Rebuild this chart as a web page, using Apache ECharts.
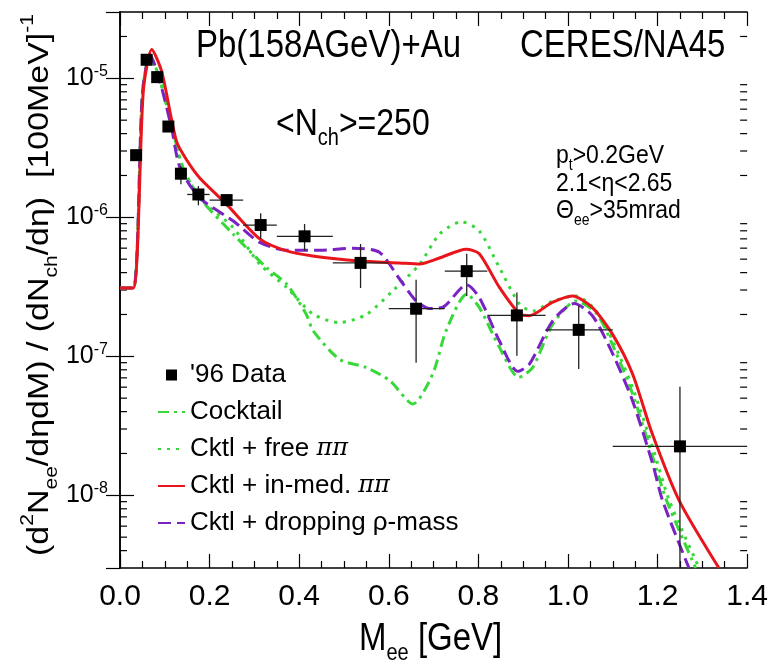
<!DOCTYPE html>
<html>
<head>
<meta charset="utf-8">
<script src="https://cdn.jsdelivr.net/npm/echarts@6/dist/echarts.min.js"></script>
<style>
  html, body { margin: 0; background: #fff; }
  #main { width: 771px; height: 666px; }
</style>
</head>
<body>
<div id="main"></div>
<script>
// '96 data: mass, yield, x-error range, y-error range
var dataM  = [0.036, 0.0595, 0.083, 0.108, 0.136, 0.175, 0.238, 0.314, 0.412, 0.537, 0.661, 0.774, 0.886, 1.024, 1.25];
var dataY  = [2.8e-6, 1.36e-5, 1.02e-5, 4.5e-6, 2.06e-6, 1.46e-6, 1.33e-6, 8.8e-7, 7.3e-7, 4.7e-7, 2.2e-7, 4.1e-7, 1.97e-7, 1.55e-7, 2.25e-8];
var dataXlo = [0.036, 0.0595, 0.083, 0.108, 0.136, 0.15, 0.2, 0.275, 0.35, 0.475, 0.6, 0.725, 0.82, 0.95, 1.1];
var dataXhi = [0.036, 0.0595, 0.083, 0.108, 0.136, 0.2, 0.275, 0.35, 0.475, 0.6, 0.725, 0.82, 0.95, 1.1, 1.4];
var dataYlo = [2.6e-6, 1.3e-5, 9.7e-6, 4.2e-6, 1.73e-6, 1.22e-6, 1.2e-6, 7.0e-7, 5.73e-7, 3.1e-7, 9.0e-8, 2.72e-7, 1.01e-7, 8.1e-8, 3.0e-9];
var dataYhi = [3.0e-6, 1.42e-5, 1.07e-5, 4.8e-6, 2.33e-6, 1.68e-6, 1.47e-6, 1.07e-6, 8.95e-7, 6.43e-7, 3.55e-7, 5.48e-7, 2.88e-7, 2.31e-7, 6.05e-8];

// Cocktail
var cockM = [0, 0.0297, 0.05, 0.067, 0.089, 0.115, 0.14, 0.178, 0.253, 0.327, 0.372, 0.416, 0.431, 0.49, 0.55, 0.602, 0.654, 0.698, 0.728, 0.774, 0.802, 0.847, 0.89, 0.921, 0.966, 1.018, 1.063, 1.1, 1.144, 1.189, 1.22, 1.285];
var cockY = [3.1e-7, 3.1e-7, 7.8e-6, 1.46e-5, 9.8e-6, 4.6e-6, 2.3e-6, 1.38e-6, 7.55e-7, 4.35e-7, 3.31e-7, 2.0e-7, 1.53e-7, 9.5e-8, 8.3e-8, 6.7e-8, 4.54e-8, 7.46e-8, 1.53e-7, 2.8e-7, 2.25e-7, 1.16e-7, 7.06e-8, 8.3e-8, 1.7e-7, 2.5e-7, 2.05e-7, 1.2e-7, 5.4e-8, 1.9e-8, 9.2e-9, 3e-9];

// Cktl + free pi pi
var freeM = [0, 0.0297, 0.05, 0.067, 0.089, 0.115, 0.14, 0.178, 0.253, 0.312, 0.372, 0.431, 0.49, 0.55, 0.609, 0.669, 0.713, 0.762, 0.802, 0.847, 0.892, 0.921, 0.966, 1.018, 1.063, 1.1, 1.144, 1.189, 1.226, 1.293];
var freeY = [3.1e-7, 3.1e-7, 7.8e-6, 1.46e-5, 9.8e-6, 4.6e-6, 2.3e-6, 1.38e-6, 8.4e-7, 4.6e-7, 3.13e-7, 2.01e-7, 1.75e-7, 2.0e-7, 2.96e-7, 4.6e-7, 7.55e-7, 9.3e-7, 7.98e-7, 4.35e-7, 2.37e-7, 2.12e-7, 2.5e-7, 2.72e-7, 2.12e-7, 1.29e-7, 5.98e-8, 2.22e-8, 9.2e-9, 3e-9];

// Cktl + in-medium pi pi
var medM = [0, 0.0297, 0.052, 0.071, 0.093, 0.126, 0.15, 0.178, 0.238, 0.312, 0.372, 0.43, 0.535, 0.624, 0.669, 0.713, 0.773, 0.802, 0.847, 0.892, 0.914, 0.965, 1.01, 1.054, 1.099, 1.144, 1.188, 1.248, 1.337];
var medY = [3.1e-7, 3.1e-7, 8.1e-6, 1.61e-5, 1.12e-5, 3.53e-6, 2.55e-6, 1.92e-6, 1.24e-6, 7.0e-7, 5.73e-7, 5.27e-7, 4.85e-7, 4.7e-7, 4.62e-7, 5.1e-7, 5.89e-7, 5.46e-7, 3.13e-7, 2.02e-7, 1.96e-7, 2.44e-7, 2.72e-7, 2.25e-7, 1.45e-7, 7.5e-8, 2.78e-8, 9.2e-9, 3e-9];

// Cktl + dropping rho mass
var dropM = [0, 0.0297, 0.05, 0.067, 0.089, 0.115, 0.134, 0.178, 0.253, 0.312, 0.372, 0.446, 0.52, 0.579, 0.624, 0.661, 0.691, 0.721, 0.774, 0.802, 0.847, 0.888, 0.914, 0.966, 1.014, 1.055, 1.1, 1.144, 1.189, 1.211, 1.27];
var dropY = [3.1e-7, 3.1e-7, 7.8e-6, 1.48e-5, 9.5e-6, 4.4e-6, 2.27e-6, 1.38e-6, 9.4e-7, 6.6e-7, 5.8e-7, 5.8e-7, 6.0e-7, 5.6e-7, 3.6e-7, 2.5e-7, 2.21e-7, 2.26e-7, 3.27e-7, 2.65e-7, 1.29e-7, 7.8e-8, 8.8e-8, 1.8e-7, 2.4e-7, 1.95e-7, 1.04e-7, 4.8e-8, 1.69e-8, 9.2e-9, 3e-9];

var xTicks = { min: 0, max: 1.4, interval: 0.2 };
var yRange = { min: 3e-9, max: 3e-5 };
var logMantissas = [2, 3, 4, 5, 6, 7, 8, 9];

var legendNames = ["'96 Data", 'Cocktail', 'Cktl + free ππ', 'Cktl + in-med. ππ', 'Cktl + dropping ρ-mass'];

function pairs(xs, ys) {
  return xs.map(function (x, i) { return [x, ys[i]]; });
}

var minorY = [];
for (var e = -9; e <= -5; e++) {
  logMantissas.forEach(function (m) {
    var v = m * Math.pow(10, e);
    if (v > yRange.min * 1.01 && v < yRange.max * 0.99) minorY.push([0, v]);
  });
}

var FONT = 'Liberation Sans';
var GREEN = '#38d838';
var RED = '#e8161c';
var PURPLE = '#7a22c4';

var myChart = echarts.init(document.getElementById('main'));

var option = {
  animation: false,
  backgroundColor: '#fff',
  grid: { left: 120, right: 23, top: 12, bottom: 98 },
  xAxis: [
    {
      type: 'value', min: xTicks.min, max: xTicks.max, interval: xTicks.interval,
      axisLine: { lineStyle: { color: '#000', width: 1.5 } },
      axisTick: { inside: true, length: 14, lineStyle: { color: '#000', width: 1.2 } },
      minorTick: { show: true, splitNumber: 4, length: 7, lineStyle: { color: '#000', width: 1.2 } },
      splitLine: { show: false },
      axisLabel: {
        margin: 14, fontFamily: FONT, fontSize: 30, color: '#000',
        formatter: function (v) { return v.toFixed(1); }
      }
    },
    {
      type: 'value', position: 'top', min: xTicks.min, max: xTicks.max, interval: xTicks.interval,
      axisLine: { lineStyle: { color: '#000', width: 1.5 } },
      axisTick: { inside: true, length: 14, lineStyle: { color: '#000', width: 1.2 } },
      minorTick: { show: true, splitNumber: 4, length: 7, lineStyle: { color: '#000', width: 1.2 } },
      splitLine: { show: false },
      axisLabel: { show: false }
    }
  ],
  yAxis: [
    {
      type: 'log', logBase: 10, min: yRange.min, max: yRange.max,
      axisLine: { lineStyle: { color: '#000', width: 1.5 } },
      axisTick: { inside: true, length: 14, lineStyle: { color: '#000', width: 1.2 } },
      splitLine: { show: false },
      axisLabel: {
        margin: 12, showMinLabel: false, showMaxLabel: false,
        formatter: function (v) {
          return '{b|10}{s|' + Math.round(Math.log10(v)) + '}';
        },
        rich: {
          b: { fontFamily: FONT, fontSize: 25, color: '#000', lineHeight: 30 },
          s: { fontFamily: FONT, fontSize: 16, color: '#000', lineHeight: 16, verticalAlign: 'top' }
        }
      }
    },
    {
      type: 'log', logBase: 10, min: yRange.min, max: yRange.max, position: 'right',
      axisLine: { lineStyle: { color: '#000', width: 1.5 } },
      axisTick: { inside: true, length: 14, lineStyle: { color: '#000', width: 1.2 } },
      splitLine: { show: false },
      axisLabel: { show: false }
    }
  ],
  legend: {
    orient: 'vertical', left: 152, top: 356,
    itemWidth: 27, itemHeight: 11, itemGap: 9,
    data: legendNames.map(function (n, i) {
      return i === 0
        ? { name: n, icon: 'path://M0,0L1,0L1,1L0,1Z' }
        : { name: n, itemStyle: { color: 'rgba(0,0,0,0)', borderWidth: 0 } };
    }),
    formatter: function (name) { return name.replace('ππ', '{g|ππ}'); },
    textStyle: {
      fontFamily: FONT, fontSize: 26, color: '#000', lineHeight: 28,
      rich: { g: { fontFamily: 'DejaVu Serif', fontStyle: 'italic', fontSize: 24, color: '#000' } }
    },
    selectedMode: false
  },
  graphic: [
    {
      type: 'text', x: 196, y: 47, scaleY: 1.15,
      style: { text: 'Pb(158AGeV)+Au', fontFamily: FONT, fontSize: 33, fill: '#000', verticalAlign: 'middle' }
    },
    {
      type: 'text', x: 520, y: 47, scaleY: 1.15,
      style: { text: 'CERES/NA45', fontFamily: FONT, fontSize: 33, fill: '#000', verticalAlign: 'middle' }
    },
    {
      type: 'text', x: 276, y: 125, scaleY: 1.15,
      style: {
        text: '<N{sub|ch}>=250', fontFamily: FONT, fontSize: 32, fill: '#000', verticalAlign: 'middle',
        rich: { sub: { fontFamily: FONT, fontSize: 20, verticalAlign: 'bottom', lineHeight: 20, fill: '#000' } },
        lineHeight: 44
      }
    },
    {
      type: 'text', x: 556, y: 156, scaleY: 1.15,
      style: {
        text: 'p{sub|t}>0.2GeV', fontFamily: FONT, fontSize: 23, fill: '#000', verticalAlign: 'middle', lineHeight: 30,
        rich: { sub: { fontFamily: FONT, fontSize: 14, verticalAlign: 'bottom', lineHeight: 14, fill: '#000' } }
      }
    },
    {
      type: 'text', x: 556, y: 184, scaleY: 1.15,
      style: { text: '2.1<η<2.65', fontFamily: FONT, fontSize: 23, fill: '#000', verticalAlign: 'middle' }
    },
    {
      type: 'text', x: 556, y: 211, scaleY: 1.15,
      style: {
        text: 'Θ{sub|ee}>35mrad', fontFamily: FONT, fontSize: 23, fill: '#000', verticalAlign: 'middle', lineHeight: 30,
        rich: { sub: { fontFamily: FONT, fontSize: 14, verticalAlign: 'bottom', lineHeight: 14, fill: '#000' } }
      }
    },
    {
      type: 'text', x: 359, y: 640, scaleY: 1.15,
      style: {
        text: 'M{sub|ee} [GeV]', fontFamily: FONT, fontSize: 33, fill: '#000', verticalAlign: 'middle', lineHeight: 44,
        rich: { sub: { fontFamily: FONT, fontSize: 20, verticalAlign: 'bottom', lineHeight: 20, fill: '#000' } }
      }
    },
    {
      type: 'text', x: 40, y: 285, rotation: Math.PI / 2, scaleX: 1.17,
      style: {
        text: '(d{sup|2}N{sub|ee}/dηdM) / (dN{sub|ch}/dη)  [100MeV]{sup|-1}',
        fontFamily: FONT, fontSize: 29, fill: '#000', align: 'center', verticalAlign: 'middle', lineHeight: 42,
        rich: {
          sup: { fontFamily: FONT, fontSize: 18, verticalAlign: 'top', lineHeight: 18, fill: '#000' },
          sub: { fontFamily: FONT, fontSize: 18, verticalAlign: 'bottom', lineHeight: 18, fill: '#000' }
        }
      }
    }
  ],
  series: [
    {
      name: 'Cocktail', type: 'line', data: pairs(cockM, cockY), showSymbol: false, symbol: 'none',
      smooth: 0.25, color: GREEN,
      lineStyle: { color: GREEN, width: 3, type: [11, 5, 3, 5] }
    },
    {
      name: 'Cktl + free ππ', type: 'line', data: pairs(freeM, freeY), showSymbol: false, symbol: 'none',
      smooth: 0.25, color: GREEN,
      lineStyle: { color: GREEN, width: 3, type: [3, 6] }
    },
    {
      name: 'Cktl + dropping ρ-mass', type: 'line', data: pairs(dropM, dropY), showSymbol: false, symbol: 'none',
      smooth: 0.25, color: PURPLE,
      lineStyle: { color: PURPLE, width: 3, type: [13, 6] }
    },
    {
      name: 'Cktl + in-med. ππ', type: 'line', data: pairs(medM, medY), showSymbol: false, symbol: 'none',
      smooth: 0.25, color: RED,
      lineStyle: { color: RED, width: 3 }
    },
    {
      name: "'96 Data", type: 'custom', coordinateSystem: 'cartesian2d', z: 10, color: '#000',
      itemStyle: { color: '#000' },
      data: dataM.map(function (m, i) {
        return [m, dataY[i], dataXlo[i], dataXhi[i], dataYlo[i], dataYhi[i]];
      }),
      renderItem: function (params, api) {
        var c = api.coord([api.value(0), api.value(1)]);
        var l = api.coord([api.value(2), api.value(1)]);
        var r = api.coord([api.value(3), api.value(1)]);
        var lo = api.coord([api.value(0), api.value(4)]);
        var hi = api.coord([api.value(0), api.value(5)]);
        var s = 12;
        var ls = { stroke: '#222', lineWidth: 1.3 };
        return {
          type: 'group',
          children: [
            { type: 'line', shape: { x1: l[0], y1: c[1], x2: r[0], y2: c[1] }, style: ls },
            { type: 'line', shape: { x1: c[0], y1: lo[1], x2: c[0], y2: hi[1] }, style: ls },
            { type: 'rect', shape: { x: c[0] - s / 2, y: c[1] - s / 2, width: s, height: s }, style: { fill: '#000' } }
          ]
        };
      }
    },
    {
      name: 'minorTicksY', type: 'custom', coordinateSystem: 'cartesian2d', silent: true, z: 3,
      data: minorY,
      renderItem: function (params, api) {
        var p = api.coord([xTicks.min, api.value(1)]);
        var q = api.coord([xTicks.max, api.value(1)]);
        var st = { stroke: '#000', lineWidth: 1.2 };
        return {
          type: 'group',
          children: [
            { type: 'line', shape: { x1: p[0], y1: p[1], x2: p[0] + 7, y2: p[1] }, style: st },
            { type: 'line', shape: { x1: q[0], y1: q[1], x2: q[0] - 7, y2: q[1] }, style: st }
          ]
        };
      }
    }
  ]
};

myChart.setOption(option);
</script>
</body>
</html>
